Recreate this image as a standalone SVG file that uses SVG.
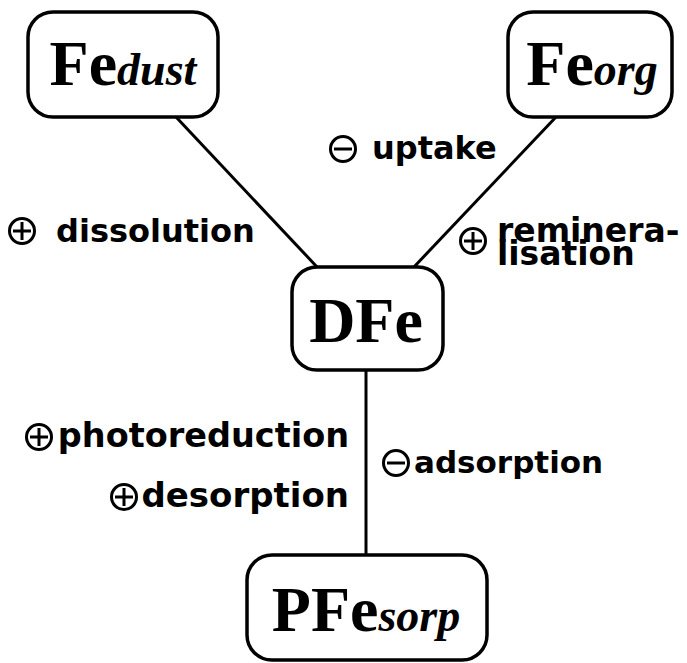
<svg xmlns="http://www.w3.org/2000/svg" width="687" height="663" viewBox="0 0 687 663">
<style>
.box{fill:#fff;stroke:#000;stroke-width:3.5}
.edge{stroke:#000;stroke-width:3;fill:none}
.nt{font-family:"Liberation Serif","Times New Roman",serif;font-weight:bold;font-size:64px;fill:#000}
.sub{font-style:italic;font-size:46px}
.lb{font-family:"DejaVu Sans",sans-serif;font-weight:bold;font-size:32px;fill:#000}
.sym{fill:none;stroke:#000;stroke-width:3}
</style>
<defs>
<g id="plus"><circle class="sym" cx="0" cy="0" r="12.5"/><path class="sym" d="M-9,0H9M0,-9V9"/></g>
<g id="minus"><circle class="sym" cx="0" cy="0" r="12.5"/><path class="sym" d="M-9,0H9"/></g>
</defs>
<rect width="687" height="663" fill="#fff"/>
<g id="connectors">
<line class="edge" x1="176" y1="117" x2="318" y2="268"/>
<line class="edge" x1="556" y1="117" x2="413" y2="268"/>
<line class="edge" x1="366" y1="370" x2="366" y2="555"/>
</g>
<g id="Fedust">
<rect class="box" x="28" y="12" width="190" height="105" rx="25"/>
<text class="nt" x="123" y="85" text-anchor="middle">Fe<tspan class="sub">dust</tspan></text>
</g>
<g id="Feorg">
<rect class="box" x="508" y="12" width="164" height="105" rx="25"/>
<text class="nt" x="592" y="85" text-anchor="middle">Fe<tspan class="sub">org</tspan></text>
</g>
<g id="DFe">
<rect class="box" x="292" y="267" width="151" height="103" rx="25"/>
<text class="nt" x="366" y="342" text-anchor="middle">DFe</text>
</g>
<g id="PFesorp">
<rect class="box" x="247" y="555" width="240" height="105" rx="25"/>
<text class="nt" x="366" y="631" text-anchor="middle">PFe<tspan class="sub">sorp</tspan></text>
</g>
<g id="labels">
<use href="#plus" x="22" y="231"/>
<text class="lb" x="56" y="242">dissolution</text>
<use href="#minus" x="343" y="149"/>
<text class="lb" x="372" y="159">uptake</text>
<use href="#plus" x="473" y="241"/>
<text class="lb" style="font-size:33px"><tspan x="497" y="242">reminera-</tspan><tspan x="497" y="265">lisation</tspan></text>
<use href="#plus" x="39" y="437"/>
<text class="lb" style="font-size:33.5px" x="349" y="447" text-anchor="end">photoreduction</text>
<use href="#plus" x="124" y="497"/>
<text class="lb" style="font-size:34px" x="349" y="507" text-anchor="end">desorption</text>
<use href="#minus" x="396" y="463"/>
<text class="lb" style="font-size:31px" x="414" y="473">adsorption</text>
</g>
</svg>
